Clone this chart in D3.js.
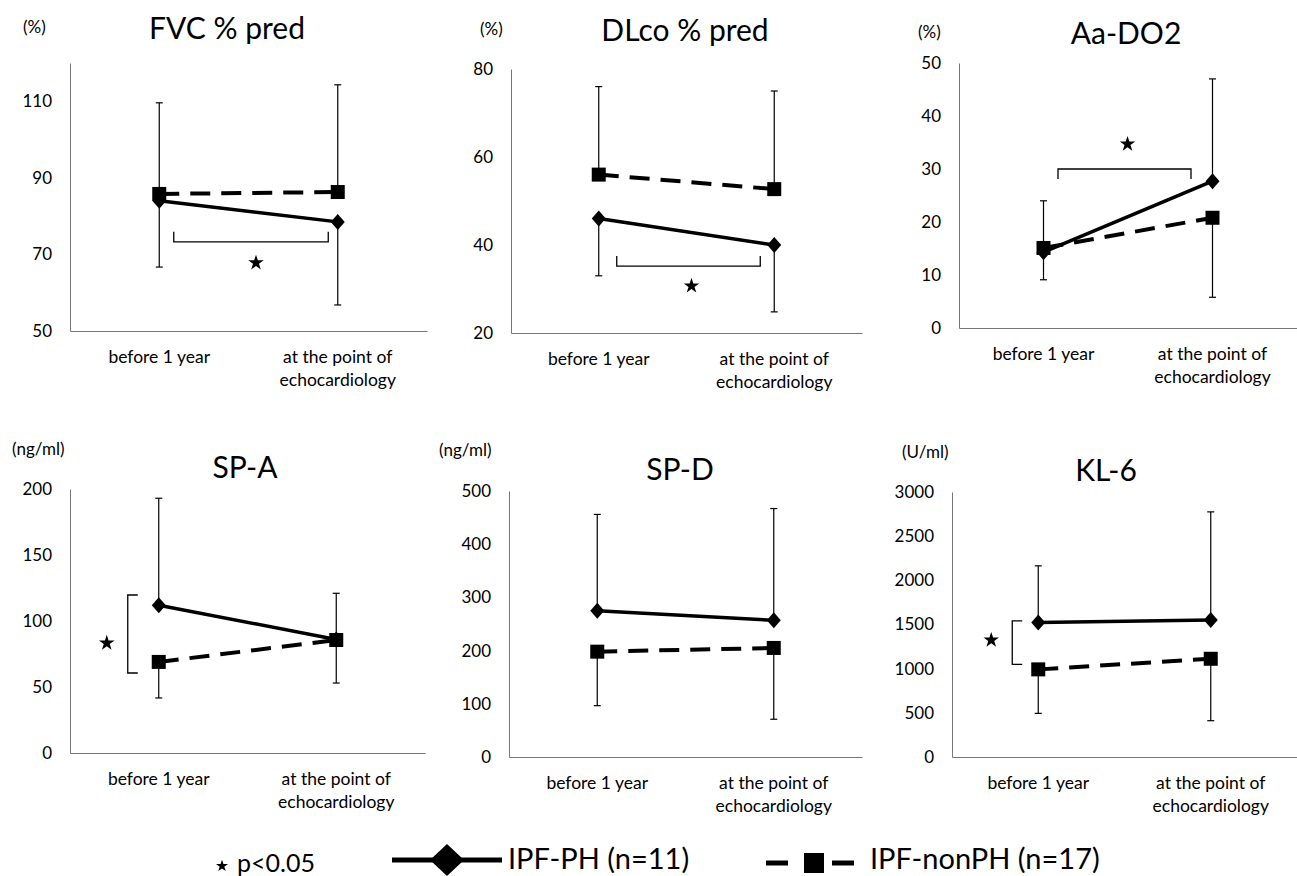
<!DOCTYPE html>
<html>
<head>
<meta charset="utf-8">
<script src="https://cdn.jsdelivr.net/npm/d3@7"></script>
<style>
  body { margin: 0; background: #fff; }
  text { font-family: Lato, "Open Sans", sans-serif; fill: #000; }
</style>
</head>
<body>
<svg id="chart" width="1297" height="876"></svg>
<script>
// ---- data ----
var panelTitles = ["FVC % pred", "DLco % pred", "Aa-DO2", "SP-A", "SP-D", "KL-6"];
var panelUnits = ["(%)", "(%)", "(%)", "(ng/ml)", "(ng/ml)", "(U/ml)"];
var timepoints = ["before 1 year", "at the point of echocardiology"];
var timepointLines = [["before 1 year"], ["at the point of", "echocardiology"]];
var yDomains = [[50, 120], [20, 80], [0, 50], [0, 200], [0, 500], [0, 3000]];
var yTicks = [
  [50, 70, 90, 110],
  [20, 40, 60, 80],
  [0, 10, 20, 30, 40, 50],
  [0, 50, 100, 150, 200],
  [0, 100, 200, 300, 400, 500],
  [0, 500, 1000, 1500, 2000, 2500, 3000]
];
// means, IPF-PH (n=11)
var phMeans = [[84, 78.5], [46, 40], [14.3, 27.7], [112, 86], [275, 257], [1524, 1550]];
// means, IPF-nonPH (n=17)
var nonPhMeans = [[85.8, 86.3], [56, 52.7], [15.1, 20.8], [69, 85.6], [198, 205], [992, 1112]];
// where each one-sided SD bar ends
var phErrEnds = [[66.7, 56.8], [33, 24.8], [24, 47], [193, 121], [456, 467], [2164, 2775]];
var nonPhErrEnds = [[109.6, 114.3], [76, 75], [9.1, 5.8], [41.7, 53], [96.5, 71], [494, 411]];
// p<0.05 brackets (values on the y scale)
var sigBrackets = [
  {type: "h", at: 73.3, tip: 75.9, star: 67.8},
  {type: "h", at: 35.2, tip: 37.5, star: 30.7},
  {type: "h", at: 30, tip: 28.1, star: 34.7},
  {type: "v", from: 119.7, to: 60.6, star: 83.3},
  null,
  {type: "v", from: 1542, to: 1048, star: 1323}
];
var seriesNames = ["IPF-PH (n=11)", "IPF-nonPH (n=17)"];

// ---- layout ----
var layout = [
  {left: 70, right: 427, top: 63, bottom: 331, titleX: 227, titleY: 39, unitDx: -47, unitY: 29, sig: {d1: 14.5, d2: -9.5, starDx: 5}},
  {left: 511, right: 862, top: 69, bottom: 333, titleX: 685, titleY: 41, unitDx: -31, unitY: 31, sig: {d1: 18, d2: -14, starDx: 3}},
  {left: 959, right: 1297, top: 63, bottom: 328, titleX: 1126, titleY: 44, unitDx: -41, unitY: 34, sig: {d1: 14.5, d2: -21.5, starDx: 3}},
  {left: 70, right: 425, top: 489, bottom: 753, titleX: 245, titleY: 478, unitDx: -58, unitY: 451, sig: {dx: -31, tick: 10, starDx: -52}},
  {left: 509, right: 862, top: 491, bottom: 757, titleX: 680, titleY: 480, unitDx: -70, unitY: 452, sig: null},
  {left: 952, right: 1297, top: 492, bottom: 757, titleX: 1106, titleY: 481, unitDx: -50, unitY: 454, sig: {dx: -26, tick: 10, starDx: -47}}
];

var svg = d3.select("#chart");
var star = d3.symbol().type(d3.symbolStar);
var diamondPath = function(hw, hh) {
  return "M0," + (-hh) + "L" + hw + ",0L0," + hh + "L" + (-hw) + ",0Z";
};

panelTitles.forEach(function(title, i) {
  var L = layout[i];
  var g = svg.append("g");

  var x = d3.scalePoint().domain(timepoints).range([L.left, L.right]).padding(0.5);
  var y = d3.scaleLinear().domain(yDomains[i]).range([L.bottom, L.top]);

  // axes: plain thin lines, labels only
  var yAxis = d3.axisLeft(y).tickValues(yTicks[i]).tickFormat(d3.format("d")).tickSize(0).tickPadding(18);
  var gy = g.append("g").attr("transform", "translate(" + L.left + ",0)").call(yAxis);
  gy.select(".domain").attr("stroke", "#777").attr("stroke-width", 1);
  gy.selectAll("text").style("font-size", "17px").style("font-family", "Lato, sans-serif").attr("fill", "#000");

  var xAxis = d3.axisBottom(x).tickSize(0).tickFormat("");
  var gx = g.append("g").attr("transform", "translate(0," + L.bottom + ")").call(xAxis);
  gx.select(".domain").attr("stroke", "#777").attr("stroke-width", 1);

  timepoints.forEach(function(tp, k) {
    var t = g.append("text")
      .attr("x", x(tp))
      .attr("y", L.bottom + 32)
      .attr("text-anchor", "middle")
      .style("font-size", "17.5px");
    timepointLines[k].forEach(function(line, j) {
      t.append("tspan").attr("x", x(tp)).attr("dy", j === 0 ? 0 : 23).text(line);
    });
  });

  // title and unit
  g.append("text").attr("x", L.titleX).attr("y", L.titleY)
    .attr("text-anchor", "middle").style("font-size", "30px").text(title);
  g.append("text").attr("x", L.left + L.unitDx).attr("y", L.unitY)
    .attr("dominant-baseline", "middle").style("font-size", "17px").text(panelUnits[i]);

  // error bars
  var bars = [];
  timepoints.forEach(function(tp, k) {
    bars.push({x: x(tp), from: phMeans[i][k], to: phErrEnds[i][k]});
    bars.push({x: x(tp), from: nonPhMeans[i][k], to: nonPhErrEnds[i][k]});
  });
  g.selectAll(".err").data(bars).enter().append("line")
    .attr("x1", d => d.x).attr("x2", d => d.x)
    .attr("y1", d => y(d.from)).attr("y2", d => y(d.to))
    .attr("stroke", "#000").attr("stroke-width", 1.2);
  g.selectAll(".cap").data(bars).enter().append("line")
    .attr("x1", d => d.x - 3.5).attr("x2", d => d.x + 3.5)
    .attr("y1", d => y(d.to)).attr("y2", d => y(d.to))
    .attr("stroke", "#000").attr("stroke-width", 1.2);

  // series lines
  var line = d3.line().x(d => x(d[0])).y(d => y(d[1]));
  var nonPts = timepoints.map((tp, k) => [tp, nonPhMeans[i][k]]);
  var phPts = timepoints.map((tp, k) => [tp, phMeans[i][k]]);
  g.append("path").datum(nonPts).attr("d", line)
    .attr("fill", "none").attr("stroke", "#000").attr("stroke-width", 4)
    .attr("stroke-dasharray", "20,11");
  g.append("path").datum(phPts).attr("d", line)
    .attr("fill", "none").attr("stroke", "#000").attr("stroke-width", 3.5);

  // markers
  g.selectAll(".sq").data(nonPts).enter().append("rect")
    .attr("x", d => x(d[0]) - 7).attr("y", d => y(d[1]) - 7)
    .attr("width", 14).attr("height", 14).attr("fill", "#000");
  g.selectAll(".dm").data(phPts).enter().append("path")
    .attr("transform", d => "translate(" + x(d[0]) + "," + y(d[1]) + ")")
    .attr("d", diamondPath(7, 8)).attr("fill", "#000");

  // significance bracket
  var s = sigBrackets[i];
  if (s) {
    var bp;
    var sx, sy;
    if (s.type === "h") {
      var x1 = x(timepoints[0]) + L.sig.d1, x2 = x(timepoints[1]) + L.sig.d2;
      bp = "M" + x1 + "," + y(s.tip) + "V" + y(s.at) + "H" + x2 + "V" + y(s.tip);
      sx = (x1 + x2) / 2 + L.sig.starDx;
      sy = y(s.star);
    } else {
      var bx = x(timepoints[0]) + L.sig.dx;
      bp = "M" + (bx + L.sig.tick) + "," + y(s.from) + "H" + bx + "V" + y(s.to) + "H" + (bx + L.sig.tick);
      sx = x(timepoints[0]) + L.sig.starDx;
      sy = y(s.star);
    }
    g.append("path").attr("d", bp).attr("fill", "none").attr("stroke", "#000").attr("stroke-width", 1.3);
    g.append("path").attr("d", star.size(75)).attr("transform", "translate(" + sx + "," + sy + ")").attr("fill", "#000");
  }
});

// ---- legend ----
var leg = svg.append("g");
leg.append("path").attr("d", star.size(45)).attr("transform", "translate(222,866)").attr("fill", "#000");
leg.append("text").attr("x", 237).attr("y", 866).attr("dominant-baseline", "middle")
  .style("font-size", "25px").text("p<0.05");

leg.append("line").attr("x1", 392).attr("x2", 502).attr("y1", 860).attr("y2", 860)
  .attr("stroke", "#000").attr("stroke-width", 5);
leg.append("path").attr("d", diamondPath(17, 16)).attr("transform", "translate(447,860)").attr("fill", "#000");
leg.append("text").attr("x", 508).attr("y", 862).attr("dominant-baseline", "middle")
  .style("font-size", "29px").text(seriesNames[0]);

leg.append("line").attr("x1", 766).attr("x2", 862).attr("y1", 863).attr("y2", 863)
  .attr("stroke", "#000").attr("stroke-width", 5).attr("stroke-dasharray", "22,22,0,22,22");
leg.append("rect").attr("x", 804).attr("y", 853).attr("width", 20).attr("height", 20).attr("fill", "#000");
leg.append("text").attr("x", 870).attr("y", 862).attr("dominant-baseline", "middle")
  .style("font-size", "29px").text(seriesNames[1]);
</script>
</body>
</html>
